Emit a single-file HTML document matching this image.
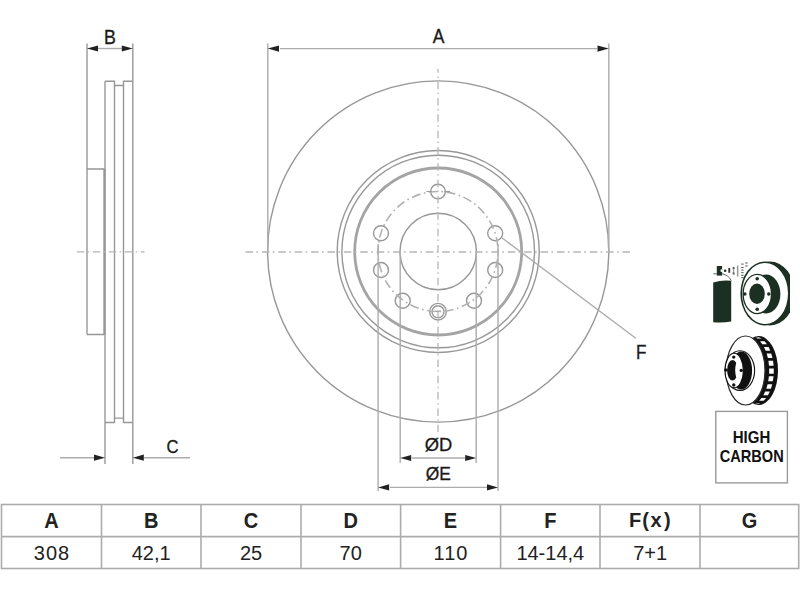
<!DOCTYPE html>
<html><head><meta charset="utf-8">
<style>
html,body{margin:0;padding:0;background:#fff;}
body{width:800px;height:600px;overflow:hidden;position:relative;font-family:"Liberation Sans",sans-serif;}
svg{position:absolute;left:0;top:0;}
</style></head>
<body>
<svg width="800" height="600" viewBox="0 0 800 600">
<g fill="none" stroke="#979797" stroke-width="1.4">
  <!-- side view -->
  <line x1="87" y1="43.5" x2="87" y2="334.5"/>
  <path d="M87,169 H104.5 M87,334.5 H104.5"/>
  <line x1="105" y1="81.2" x2="105" y2="464" />
  <line x1="104.4" y1="169" x2="104.4" y2="334.5" stroke-width="2.2"/>
  <line x1="132.8" y1="43.5" x2="132.8" y2="464"/>
  <path d="M105,81.2 H114.5 V85.5 H123.5 V81.2 H132.8"/>
  <path d="M105,422.5 H114.5 V418.1 H123.5 V422.5 H132.8"/>
  <line x1="114.5" y1="85.5" x2="114.5" y2="418.1"/>
  <line x1="123.5" y1="85.5" x2="123.5" y2="418.1"/>
  <!-- main disc -->
  <circle cx="438.2" cy="251.5" r="170.6"/>
  <circle cx="438.2" cy="251.5" r="101"/>
  <circle cx="438.2" cy="251.5" r="96.3"/>
  <circle cx="438.2" cy="251.5" r="83.5" stroke="#a4a4a4" stroke-width="2.8"/>
  <circle cx="438.2" cy="251.5" r="38.2"/>
  <circle cx="438" cy="191.5" r="7.3"/>
  <circle cx="381" cy="233.2" r="7.5"/>
  <circle cx="495.2" cy="233.2" r="7.5"/>
  <circle cx="381" cy="270" r="7.5"/>
  <circle cx="495.2" cy="270" r="7.5"/>
  <circle cx="402.7" cy="300.7" r="7.5"/>
  <circle cx="474" cy="300.7" r="7.5"/>
  <circle cx="438" cy="311.7" r="8.3"/>
  <circle cx="438" cy="311.7" r="6"/>
  <path d="M434.5,311.3 H441" stroke-width="1.2"/>
</g>
<g fill="none" stroke="#b6b6b6" stroke-width="1.3">
  <!-- bolt circle dashed -->
  <circle cx="438" cy="251.5" r="60" stroke="#b2b2b2" stroke-width="1.6" stroke-dasharray="9 3.5 1.7 3.5" stroke-dashoffset="10.1"/>
  <path d="M426.5,191.5 H431.5 M444.5,191.5 H450" stroke="#999" stroke-width="1.2"/>
  <!-- centerlines -->
  <line x1="76.8" y1="251.8" x2="144.5" y2="251.8" stroke-dasharray="7.5 3.3 1.5 3.7"/>
  <line x1="245.5" y1="252" x2="630" y2="252" stroke-dasharray="7.6 3.3 1.7 3.79"/>
  <line x1="438" y1="69" x2="438" y2="432" stroke-dasharray="7.5 3.4 1.5 3.94" stroke-dashoffset="3.7"/>
</g>
<g fill="none" stroke="#acacac" stroke-width="1.4">
  <!-- B dim -->
  <line x1="98" y1="48.5" x2="122" y2="48.5"/>
  <!-- C dim -->
  <line x1="60" y1="457.7" x2="94" y2="457.7"/>
  <line x1="144" y1="457.7" x2="190" y2="457.7"/>
  <!-- A dim -->
  <line x1="267.8" y1="43.5" x2="267.8" y2="251"/>
  <line x1="608.8" y1="43.5" x2="608.8" y2="251"/>
  <line x1="280" y1="48.6" x2="597" y2="48.6"/>
  <!-- D / E -->
  <line x1="400.2" y1="252" x2="400.2" y2="463"/>
  <line x1="476.2" y1="252" x2="476.2" y2="463"/>
  <line x1="378.1" y1="244" x2="378.1" y2="491"/>
  <line x1="498" y1="244" x2="498" y2="491"/>
  <line x1="412" y1="458" x2="465" y2="458"/>
  <line x1="390" y1="487.4" x2="487" y2="487.4"/>
  <!-- F leader -->
  <line x1="501.5" y1="237.5" x2="635.8" y2="338.3"/>
</g>
<!-- arrowheads -->
<g fill="#222">
  <path d="M267.7,48.6 L279,45.5 L279,51.7 Z"/>
  <path d="M608.8,48.6 L597.5,45.5 L597.5,51.7 Z"/>
  <path d="M87,48.5 L98,45.4 L98,51.6 Z"/>
  <path d="M132.8,48.5 L121.8,45.4 L121.8,51.6 Z"/>
  <path d="M105,457.7 L94,454.6 L94,460.8 Z"/>
  <path d="M132.8,457.7 L143.8,454.6 L143.8,460.8 Z"/>
  <path d="M400.2,458 L411.2,454.9 L411.2,461.1 Z"/>
  <path d="M476.2,458 L465.2,454.9 L465.2,461.1 Z"/>
  <path d="M378.1,487.4 L389.1,484.3 L389.1,490.5 Z"/>
  <path d="M498,487.4 L487,484.3 L487,490.5 Z"/>
</g>
<!-- labels -->
<g fill="#1a1a1a" stroke="#1a1a1a" stroke-width="0.3" font-family="Liberation Sans, sans-serif" text-anchor="middle">
  <text transform="translate(438.7,43.4) scale(0.92,1.09)" font-size="19">A</text>
  <text transform="translate(109.9,44.2) scale(1,1.12)" font-size="17.8">B</text>
  <text transform="translate(172.4,452.8) scale(0.95,1.1)" font-size="17.5">C</text>
  <text transform="translate(438.6,451.2) scale(1.03,1.08)" font-size="17.8">ØD</text>
  <text transform="translate(438.2,479.9) scale(1,1.07)" font-size="17.4">ØE</text>
  <text transform="translate(641.3,358.7) scale(0.95,1.09)" font-size="18">F</text>
</g>

<!-- HIGH CARBON box -->
<rect x="715.8" y="411.4" width="71.6" height="71.5" fill="none" stroke="#999" stroke-width="1.4"/>
<g fill="#111" font-family="Liberation Sans, sans-serif" font-weight="bold" text-anchor="middle">
  <text transform="translate(751.5,442.8) scale(1,1.07)" font-size="15">HIGH</text>
  <text transform="translate(751.7,461.8) scale(1,1.07)" font-size="14.6">CARBON</text>
</g>

<!-- table -->
<g stroke="#acacac" stroke-width="1.6" fill="none">
  <rect x="1.5" y="504.5" width="797.2" height="64"/>
  <line x1="1.5" y1="536.6" x2="798.7" y2="536.6"/>
  <line x1="101.5" y1="504.5" x2="101.5" y2="568.5"/>
  <line x1="201" y1="504.5" x2="201" y2="568.5"/>
  <line x1="301" y1="504.5" x2="301" y2="568.5"/>
  <line x1="400.6" y1="504.5" x2="400.6" y2="568.5"/>
  <line x1="500.6" y1="504.5" x2="500.6" y2="568.5"/>
  <line x1="600" y1="504.5" x2="600" y2="568.5"/>
  <line x1="700" y1="504.5" x2="700" y2="568.5"/>
</g>
<g fill="#222" font-family="Liberation Sans, sans-serif" text-anchor="middle">
  <g font-weight="bold" font-size="20">
    <text transform="translate(51.5,527.6) scale(1,1.07)">A</text>
    <text transform="translate(151.2,527.6) scale(1,1.07)">B</text>
    <text transform="translate(251,527.6) scale(1,1.07)">C</text>
    <text transform="translate(350.7,527.6) scale(1,1.07)">D</text>
    <text transform="translate(450.5,527.6) scale(1,1.07)">E</text>
    <text transform="translate(550.3,527.6) scale(1,1.07)">F</text>
    <text transform="translate(629,526.8) scale(1,1.05)" text-anchor="start">F<tspan dx="1">(</tspan><tspan dx="1.5">x</tspan><tspan dx="2.5">)</tspan></text>
    <text transform="translate(749.4,527.6) scale(1,1.07)">G</text>
  </g>
  <g font-size="20">
    <text x="52" y="559.6" letter-spacing="1">308</text>
    <text x="151.2" y="559.6">42,1</text>
    <text x="251" y="559.6">25</text>
    <text x="350.7" y="559.6">70</text>
    <text x="451" y="559.6" letter-spacing="1">110</text>
    <text x="550.3" y="559.6">14-14,4</text>
    <text x="650.1" y="559.6">7+1</text>
  </g>
</g>

<!-- ICON 1: spray + disc -->
<g id="icon1">
  <defs>
    <clipPath id="clip1"><rect x="700" y="250" width="90" height="90"/></clipPath>
  </defs>
  <g fill="#1b2f22">
    <!-- can body -->
    <path d="M713.2,282.6 Q722,279.6 731.2,280.8 L731.2,321.6 Q722,323.2 713.2,322.2 Z"/>
    <!-- nozzle -->
    <rect x="716.8" y="266" width="5.3" height="9.6"/>
    <circle cx="725.1" cy="270.8" r="1.3"/>
  </g>
  <rect x="720.6" y="269.4" width="1.6" height="2.5" fill="#fff"/>
  <path d="M713.3,273.8 H716.8 M722.1,273.8 Q728.5,275 731.2,280.6" fill="none" stroke="#555" stroke-width="0.9"/>
  <g fill="#555">
    <rect x="728.3" y="268" width="1.9" height="4.8" fill="#3a3a3a"/>
    <rect x="732.7" y="267" width="1.8" height="2.4"/>
    <rect x="732.7" y="272.2" width="1.8" height="2.4"/>
    <rect x="733" y="269.4" width="1.2" height="2.8" fill="#999"/>
    <rect x="736.9" y="265.5" width="1.5" height="11" fill="#9a9a9a"/>
    <rect x="741.2" y="263.6" width="2.4" height="1" />
    <rect x="741.2" y="267" width="2.4" height="1" />
    <rect x="741.2" y="269.6" width="2.4" height="1" />
    <rect x="741.2" y="272.2" width="2.4" height="1" />
    <rect x="741.2" y="274.8" width="2.4" height="1" />
    <rect x="741.2" y="277.2" width="2.4" height="1" />
    <rect x="745.2" y="262.5" width="2.4" height="1" />
    <rect x="745.2" y="265.5" width="2.4" height="1" />
  </g>
  <g clip-path="url(#clip1)">
    <ellipse cx="765" cy="293.5" rx="24.6" ry="32" fill="#1b2f22"/>
    <ellipse cx="770" cy="293.5" rx="24.6" ry="32" fill="#1b2f22"/>
  </g>
  <rect x="790" y="250" width="10" height="90" fill="#fff"/>
  <ellipse cx="765" cy="293.5" rx="23" ry="30.5" fill="#fff"/>
  <ellipse cx="766" cy="294" rx="14.4" ry="19.6" fill="#1b2f22"/>
  <ellipse cx="757.3" cy="294" rx="14.2" ry="19.6" fill="#fff" stroke="#1b2f22" stroke-width="1.3"/>
  <g fill="#1b2f22">
    <ellipse cx="757" cy="293.8" rx="7.8" ry="10.2"/>
    <circle cx="757.2" cy="278.8" r="1.8"/>
    <circle cx="757.2" cy="309.2" r="1.8"/>
    <circle cx="744.8" cy="294" r="1.8"/>
    <circle cx="768.8" cy="294" r="1.8"/>
  </g>
</g>
<!-- ICON 2: vented disc -->
<g id="icon2">
  <defs>
    <clipPath id="clipB"><ellipse cx="758.6" cy="370.5" rx="18.099999999999998" ry="33.2"/></clipPath>
  </defs>
  <ellipse cx="758.6" cy="370.5" rx="19.4" ry="34.5" fill="#111"/>
  <g clip-path="url(#clipB)"><path d="M754.43,337.00 L757.13,338.56 L761.73,338.56 L759.03,337.00 Z M760.02,341.18 L762.32,344.15 L766.92,344.15 L764.62,341.18 Z M763.94,346.88 L765.73,350.81 L770.33,350.81 L768.54,346.88 Z M766.65,353.41 L767.87,357.97 L772.47,357.97 L771.25,353.41 Z M768.43,360.87 L769.02,365.82 L773.62,365.82 L773.03,360.87 Z M769.17,368.57 L769.12,373.63 L773.72,373.63 L773.77,368.57 Z M768.92,376.37 L768.23,381.28 L772.83,381.28 L773.52,376.37 Z M767.62,384.15 L766.31,388.63 L770.91,388.63 L772.22,384.15 Z M765.23,391.41 L763.35,395.19 L767.95,395.19 L769.83,391.41 Z M761.53,397.98 L759.15,400.73 L763.75,400.73 L766.13,397.98 Z M755.86,403.27 L753.10,404.50 L757.70,404.50 L760.46,403.27 Z" fill="#fff"/></g>
  <ellipse cx="745.6" cy="370.5" rx="19.4" ry="34.5" fill="#fff" stroke="#2a2a2a" stroke-width="1.2"/>
  <ellipse cx="740" cy="370.6" rx="14.6" ry="19.8" fill="#fff" stroke="#111" stroke-width="1.1"/>
  <ellipse cx="741.3" cy="370.6" rx="10.8" ry="19" fill="#111"/>
  <ellipse cx="734.2" cy="370.6" rx="9.2" ry="17.3" fill="#fff" stroke="#111" stroke-width="1.1"/>
  <ellipse cx="732.5" cy="370.2" rx="5.4" ry="10.2" fill="#111"/>
  <ellipse cx="737.6" cy="370.2" rx="2.4" ry="8.4" fill="#fff"/>
  <g fill="#111">
    <circle cx="733.75" cy="357.1" r="1.7"/>
    <circle cx="733.75" cy="385" r="1.7"/>
    <circle cx="741.25" cy="370.4" r="1.7"/>
    <circle cx="725.8" cy="370" r="1.7"/>
  </g>
</g>
</svg>
</body></html>
